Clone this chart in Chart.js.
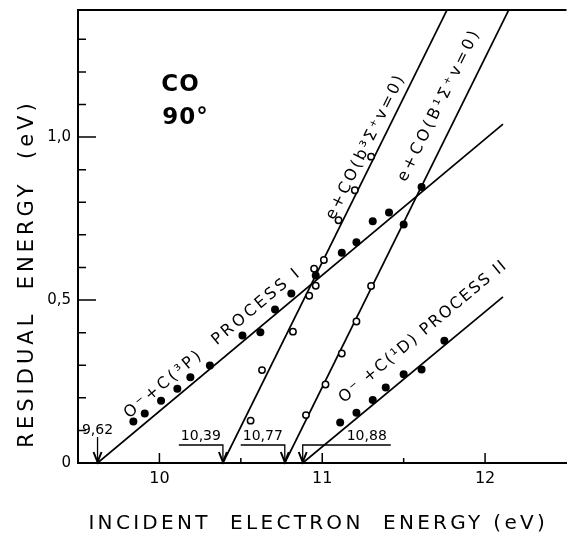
<!DOCTYPE html>
<html>
<head>
<meta charset="utf-8">
<title>CO 90° residual energy</title>
<script src="https://cdn.jsdelivr.net/npm/chart.js@4.4.1/dist/chart.umd.min.js"></script>
<style>
  html, body { margin: 0; padding: 0; background: #fff; }
  #wrap { width: 572px; height: 533px; position: relative; }
</style>
</head>
<body>
<div id="wrap"><canvas id="chart"></canvas></div>
<script>
// Residual energy vs incident electron energy, CO at 90 degrees
const xTickValues = [10, 11, 12];
const xTickLabels = ["10", "11", "12"];
const xMinorTicks = [10.5, 11.5];
const yTickValues = [0, 0.5, 1.0];
const yTickLabels = ["0", "0,5", "1,0"];
const yMinorTicks = [0.1, 0.2, 0.3, 0.4, 0.6, 0.7, 0.8, 0.9, 1.1, 1.2, 1.3];

// filled points, O- + C(3P) process I
const process1X = [9.84, 9.91, 10.01, 10.11, 10.19, 10.31, 10.51, 10.62, 10.71, 10.81, 10.96, 11.12, 11.21, 11.31, 11.41, 11.61];
const process1Y = [0.127, 0.152, 0.191, 0.228, 0.263, 0.299, 0.391, 0.401, 0.471, 0.520, 0.575, 0.645, 0.677, 0.742, 0.769, 0.847];
// filled points, O- + C(1D) process II
const process2X = [11.11, 11.21, 11.31, 11.39, 11.50, 11.61, 11.75];
const process2Y = [0.124, 0.154, 0.193, 0.232, 0.272, 0.287, 0.375];
// open points, e + CO(b3Σ+ v=0)
const b3X = [10.56, 10.63, 10.82, 10.92, 10.96, 10.95, 11.01, 11.10, 11.20, 11.30];
const b3Y = [0.130, 0.285, 0.403, 0.513, 0.544, 0.596, 0.623, 0.745, 0.837, 0.940];
// open points, e + CO(B1Σ+ v=0), and the one filled point on that line
const bigBX = [10.90, 11.02, 11.12, 11.21, 11.30];
const bigBY = [0.147, 0.241, 0.336, 0.434, 0.543];
const bigBFilledX = [11.50];
const bigBFilledY = [0.732];

// straight lines, threshold -> far end
const lineProcess1 = [[9.62, 0], [12.11, 1.04]];
const lineB3 = [[10.39, 0], [11.776, 1.40]];
const lineBigB = [[10.77, 0], [12.155, 1.40]];
const lineProcess2 = [[10.88, 0], [12.11, 0.51]];

// threshold arrows on the energy axis
const thresholds = [9.62, 10.39, 10.77, 10.88];
const thresholdLabels = ["9,62", "10,39", "10,77", "10,88"];
const thresholdSides = ["above", "left", "left", "right"];

const FONT = "'DejaVu Sans', sans-serif";
const toPts = (xs, ys) => xs.map((v, i) => ({ x: v, y: ys[i] }));
const linePts = (l) => l.map((p) => ({ x: p[0], y: p[1] }));

// Chart.js has no letter spacing for axis titles, so wrap drawTitle
const ScaleBase = Chart.Scale || Object.getPrototypeOf(Chart.LinearScale);
const baseDrawTitle = ScaleBase.prototype.drawTitle;
ScaleBase.prototype.drawTitle = function () {
  const t = this.options.title;
  const ctx = this.ctx;
  ctx.save();
  ctx.letterSpacing = t.letterSpacing || "0px";
  ctx.translate(t.shiftX || 0, t.shiftY || 0);
  baseDrawTitle.call(this);
  ctx.restore();
};

// text written along one of the lines, offset to its upper-left side
function labelAlong(ctx, x, y, line, atX, offset, text, size, width) {
  const x0 = x.getPixelForValue(line[0][0]), y0 = y.getPixelForValue(line[0][1]);
  const x1 = x.getPixelForValue(line[1][0]), y1 = y.getPixelForValue(line[1][1]);
  const ang = Math.atan2(y1 - y0, x1 - x0);
  const t = (atX - line[0][0]) / (line[1][0] - line[0][0]);
  const px = x.getPixelForValue(atX);
  const py = y.getPixelForValue(line[0][1] + t * (line[1][1] - line[0][1]));
  ctx.save();
  ctx.font = size + "px " + FONT;
  ctx.letterSpacing = "0px";
  const w = ctx.measureText(text).width;
  ctx.letterSpacing = Math.max(0, (width - w) / text.length) + "px";
  ctx.translate(px + Math.sin(ang) * offset, py - Math.cos(ang) * offset);
  ctx.rotate(ang);
  ctx.textAlign = "center";
  ctx.textBaseline = "middle";
  ctx.fillText(text, 0, 0);
  ctx.restore();
}

const overlay = {
  id: "overlay",
  afterDatasetsDraw(chart) {
    const { ctx, chartArea: a, scales: { x, y } } = chart;
    ctx.save();
    ctx.strokeStyle = "#000";
    ctx.fillStyle = "#000";

    // top frame line
    ctx.lineWidth = 2;
    ctx.beginPath();
    ctx.moveTo(a.left, a.top);
    ctx.lineTo(a.right, a.top);
    ctx.stroke();

    // tick marks point into the plot
    ctx.lineWidth = 1.5;
    ctx.beginPath();
    yTickValues.concat(yMinorTicks).forEach((v) => {
      if (v === 0) return;
      const py = y.getPixelForValue(v);
      ctx.moveTo(a.left, py);
      ctx.lineTo(a.left + (yTickValues.includes(v) ? 18 : 8), py);
    });
    xTickValues.concat(xMinorTicks).forEach((v) => {
      const px = x.getPixelForValue(v);
      ctx.moveTo(px, a.bottom);
      ctx.lineTo(px, a.bottom - (xTickValues.includes(v) ? 10 : 5));
    });
    ctx.stroke();

    // threshold arrows
    ctx.font = "14px " + FONT;
    ctx.textBaseline = "middle";
    thresholds.forEach((v, i) => {
      const ax = x.getPixelForValue(v);
      const side = thresholdSides[i];
      const lineY = a.bottom - 18;
      ctx.lineWidth = 1.3;
      ctx.beginPath();
      if (side === "above") {
        ctx.textAlign = "center";
        ctx.fillText(thresholdLabels[i], ax, a.bottom - 33);
        ctx.moveTo(ax, a.bottom - 26);
      } else {
        const w = ctx.measureText(thresholdLabels[i]).width;
        if (side === "left") {
          ctx.textAlign = "right";
          ctx.fillText(thresholdLabels[i], ax - 2, lineY - 9);
          ctx.moveTo(ax - w - 4, lineY);
        } else {
          ctx.textAlign = "left";
          ctx.fillText(thresholdLabels[i], ax + 44, lineY - 9);
          ctx.moveTo(ax + 48 + w, lineY);
        }
        ctx.lineTo(ax, lineY);
      }
      ctx.lineTo(ax, a.bottom);
      ctx.stroke();
      ctx.lineWidth = 2;
      ctx.beginPath();
      ctx.moveTo(ax - 4, a.bottom - 11);
      ctx.lineTo(ax, a.bottom - 1);
      ctx.lineTo(ax + 4, a.bottom - 11);
      ctx.stroke();
    });

    // labels written along the lines
    labelAlong(ctx, x, y, lineProcess1, 10.40, 18, "O\u207B+C(\u00B3P)  PROCESS I", 16, 226);
    labelAlong(ctx, x, y, lineB3, 11.335, 12, "e+CO(b\u00B3\u03A3\u207Av=0)", 16, 161);
    labelAlong(ctx, x, y, lineBigB, 11.83, 20, "e+CO(B\u00B9\u03A3\u207Av=0)", 16, 169);
    labelAlong(ctx, x, y, lineProcess2, 11.715, 24, "O\u207B +C(\u00B9D) PROCESS II", 16, 214);

    // molecule and angle
    ctx.textAlign = "center";
    ctx.textBaseline = "middle";
    ctx.letterSpacing = "1px";
    ctx.font = "bold 23px " + FONT;
    ctx.fillText("CO", x.getPixelForValue(10.13), y.getPixelForValue(1.16));
    ctx.fillText("90\u00B0", x.getPixelForValue(10.16), y.getPixelForValue(1.06));
    ctx.restore();
  }
};

const filled = { pointRadius: 4, pointBackgroundColor: "#000", pointBorderColor: "#000", pointBorderWidth: 0, showLine: false, order: 1 };
const open = { pointRadius: 3.2, pointBackgroundColor: "#fff", pointBorderColor: "#000", pointBorderWidth: 1.5, showLine: false, order: 1 };
const straight = { showLine: true, pointRadius: 0, borderColor: "#000", borderWidth: 1.7, order: 2 };

new Chart(document.getElementById("chart"), {
  type: "scatter",
  data: {
    datasets: [
      { label: "O- + C(3P) process I", data: toPts(process1X, process1Y), ...filled },
      { label: "O- + C(1D) process II", data: toPts(process2X, process2Y), ...filled },
      { label: "e + CO(b3 v=0)", data: toPts(b3X, b3Y), ...open },
      { label: "e + CO(B1 v=0)", data: toPts(bigBX, bigBY), ...open },
      { label: "e + CO(B1 v=0) filled", data: toPts(bigBFilledX, bigBFilledY), ...filled },
      { label: "process I line", data: linePts(lineProcess1), ...straight },
      { label: "b3 line", data: linePts(lineB3), ...straight },
      { label: "B1 line", data: linePts(lineBigB), ...straight },
      { label: "process II line", data: linePts(lineProcess2), ...straight }
    ]
  },
  options: {
    responsive: true,
    maintainAspectRatio: false,
    animation: false,
    layout: { padding: { top: 10, left: 0, right: 0, bottom: 0 } },
    plugins: { legend: { display: false }, tooltip: { enabled: false } },
    scales: {
      x: {
        type: "linear",
        min: 9.5,
        max: 12.5,
        afterBuildTicks: (s) => { s.ticks = xTickValues.map((v) => ({ value: v })); },
        afterFit: (s) => { s.height = 70; s.paddingLeft = 0; s.paddingRight = 0; },
        grid: { display: false, drawTicks: false },
        border: { display: true, color: "#000", width: 2 },
        ticks: { color: "#000", padding: 6, maxRotation: 0, font: { family: FONT, size: 16 }, callback: (v, i) => xTickLabels[i] },
        title: { display: true, text: "INCIDENT  ELECTRON  ENERGY (eV)", color: "#000", font: { family: FONT, size: 20 }, padding: 0, letterSpacing: "3.3px", shiftX: -4, shiftY: 3 }
      },
      y: {
        type: "linear",
        min: 0,
        max: 1.39,
        afterBuildTicks: (s) => { s.ticks = yTickValues.map((v) => ({ value: v })); },
        afterFit: (s) => { s.width = 78; s.paddingTop = 0; s.paddingBottom = 0; },
        grid: { display: false, drawTicks: false },
        border: { display: true, color: "#000", width: 2 },
        ticks: { color: "#000", padding: 7, font: { family: FONT, size: 15 }, callback: (v, i) => yTickLabels[i] },
        title: { display: true, text: "RESIDUAL  ENERGY  (eV)", color: "#000", font: { family: FONT, size: 21 }, padding: { top: 15, bottom: 0 }, letterSpacing: "4px", shiftY: 37 }
      }
    }
  },
  plugins: [overlay]
});
</script>
</body>
</html>
